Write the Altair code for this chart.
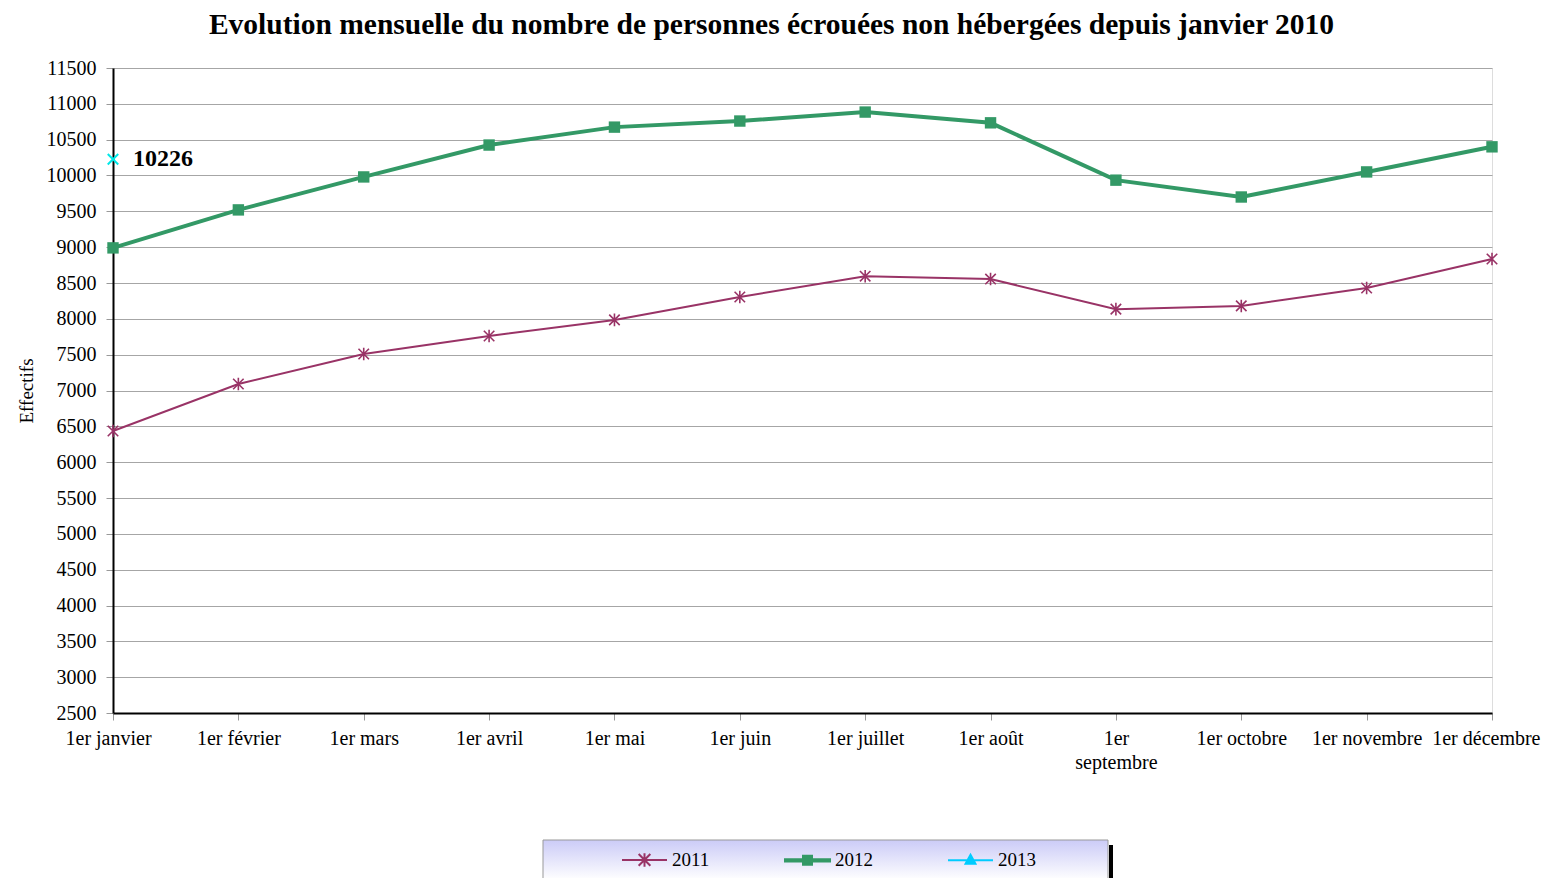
import altair as alt
import pandas as pd

months = ["1er janvier", "1er février", "1er mars", "1er avril", "1er mai", "1er juin",
          "1er juillet", "1er août", "1er septembre", "1er octobre", "1er novembre", "1er décembre"]
v2011 = [6435, 7090, 7510, 7760, 7985, 8305, 8595, 8555, 8135, 8180, 8430, 8835]
v2012 = [8990, 9520, 9980, 10425, 10675, 10760, 10885, 10735, 9935, 9700, 10050, 10400]
v2013 = [10226]
series = ["2011", "2012", "2013"]
y_ticks = list(range(2500, 11501, 500))

title_text = "Evolution mensuelle du nombre de personnes écrouées non hébergées depuis janvier 2010"
FONT = "Liberation Serif"

rows = []
for m, v in zip(months, v2011):
    rows.append({"month": m, "value": v, "series": "2011"})
for m, v in zip(months, v2012):
    rows.append({"month": m, "value": v, "series": "2012"})
for m, v in zip(months, v2013):
    rows.append({"month": m, "value": v, "series": "2013"})
df = pd.DataFrame(rows)

c2011 = "#993366"
c2012 = "#339966"
c2013 = "#00e8e8"
legend_colors = [c2011, c2012, "#00ccff"]

asterisk = "M-1,-1L1,1M-1,1L1,-1M0,-1.2L0,1.2"
xshape = "M-1,-1L1,1M-1,1L1,-1"
legend_paths = [
    "M-1,0L1,0M-0.26,-0.26L0.26,0.26M-0.26,0.26L0.26,-0.26M0,-0.3L0,0.3",
    "M-1,-0.05L1,-0.05L1,0.05L-1,0.05ZM-0.2,-0.2L0.2,-0.2L0.2,0.2L-0.2,0.2Z",
    "M-1,0L1,0M0,-0.24L0.22,0.16L-0.22,0.16Z",
]

label_expr = "datum.value == '1er septembre' ? ['1er', 'septembre'] : datum.label"

x_enc = alt.X(
    "month:O",
    sort=months,
    scale=alt.Scale(domain=months, type="point", padding=0),
    axis=alt.Axis(
        title=None, labelAngle=0, labelFont=FONT, labelFontSize=20, labelColor="black",
        tickSize=7, tickColor="#999999", domainColor="black", domainWidth=2,
        labelPadding=8, labelLineHeight=24, grid=False, labelBound=False,
        labelFlush=True, labelFlushOffset=48,
        labelExpr=label_expr,
    ),
)
y_enc = alt.Y(
    "value:Q",
    scale=alt.Scale(domain=[2500, 11500], nice=False, zero=False),
    axis=alt.Axis(
        title="Effectifs", titleFont=FONT, titleFontSize=19, titleFontWeight="normal",
        titleColor="black", titlePadding=10,
        values=y_ticks, format="d", labelFont=FONT, labelFontSize=20, labelColor="black",
        tickSize=7, tickColor="#999999", domainColor="black", domainWidth=2,
        labelPadding=10, grid=True, gridColor="#a6a6a6", gridWidth=1,
    ),
)

base = alt.Chart(df)

line2011 = base.transform_filter("datum.series == '2011'").mark_line(
    color=c2011, strokeWidth=2).encode(x=x_enc, y=y_enc)
pts2011 = base.transform_filter("datum.series == '2011'").mark_point(
    shape=asterisk, color=c2011, filled=False, size=110, strokeWidth=1.6, opacity=1).encode(x=x_enc, y=y_enc)
line2012 = base.transform_filter("datum.series == '2012'").mark_line(
    color=c2012, strokeWidth=4).encode(x=x_enc, y=y_enc)
pts2012 = base.transform_filter("datum.series == '2012'").mark_square(
    color=c2012, size=130, opacity=1).encode(x=x_enc, y=y_enc)
pts2013 = base.transform_filter("datum.series == '2013'").mark_point(
    shape=xshape, color=c2013, filled=False, size=110, strokeWidth=2, opacity=1).encode(x=x_enc, y=y_enc)
lbl2013 = base.transform_filter("datum.series == '2013'").mark_text(
    align="left", baseline="middle", dx=20, font=FONT, fontSize=24, fontWeight="bold", color="black"
).encode(x=x_enc, y=y_enc, text=alt.Text("value:Q", format="d"))

leg = alt.Legend(
    title=None, orient="none", direction="horizontal", legendX=508, legendY=768,
    symbolSize=2025, symbolStrokeWidth=2, labelFont=FONT, labelFontSize=19,
    labelColor="black", labelOffset=4, columnPadding=71, padding=0,
)
legend_layer = base.transform_filter("false").mark_point(
    filled=True, size=2025, strokeWidth=2, opacity=1
).encode(
    fill=alt.Fill("series:N", scale=alt.Scale(domain=series, range=legend_colors), legend=leg),
    stroke=alt.Stroke("series:N", scale=alt.Scale(domain=series, range=legend_colors), legend=leg),
    shape=alt.Shape("series:N", scale=alt.Scale(domain=series, range=legend_paths), legend=leg),
)

one = pd.DataFrame({"a": [0]})
legend_box = alt.Chart(one).mark_rect(
    fill=alt.Gradient(gradient="linear", stops=[
        alt.GradientStop(offset=0, color="#cbcbf7"),
        alt.GradientStop(offset=1, color="#ffffff")], x1=0, y1=0, x2=0, y2=1),
    stroke="#999999", strokeWidth=1,
).encode(x=alt.value(430), x2=alt.value(995), y=alt.value(772), y2=alt.value(812))
legend_shadow = alt.Chart(one).mark_rect(color="black").encode(
    x=alt.value(996), x2=alt.value(1000), y=alt.value(777), y2=alt.value(812))

chart = alt.layer(
    legend_box, legend_shadow, line2011, line2012, pts2011, pts2012, pts2013, lbl2013, legend_layer
).properties(
    width=1379, height=645,
    title=alt.Title(title_text, font=FONT, fontSize=29.5, fontWeight="bold", color="black",
                    anchor="middle", dx=-31, offset=18),
    autosize=alt.AutoSizeParams(type="none"),
    padding={"left": 105, "top": 60, "right": 50, "bottom": 165},
).configure_view(
    stroke="#a0a0a0", strokeWidth=2.5
).configure(background="white")

chart.save("out.html", embed_options={"renderer": "svg", "actions": False})
